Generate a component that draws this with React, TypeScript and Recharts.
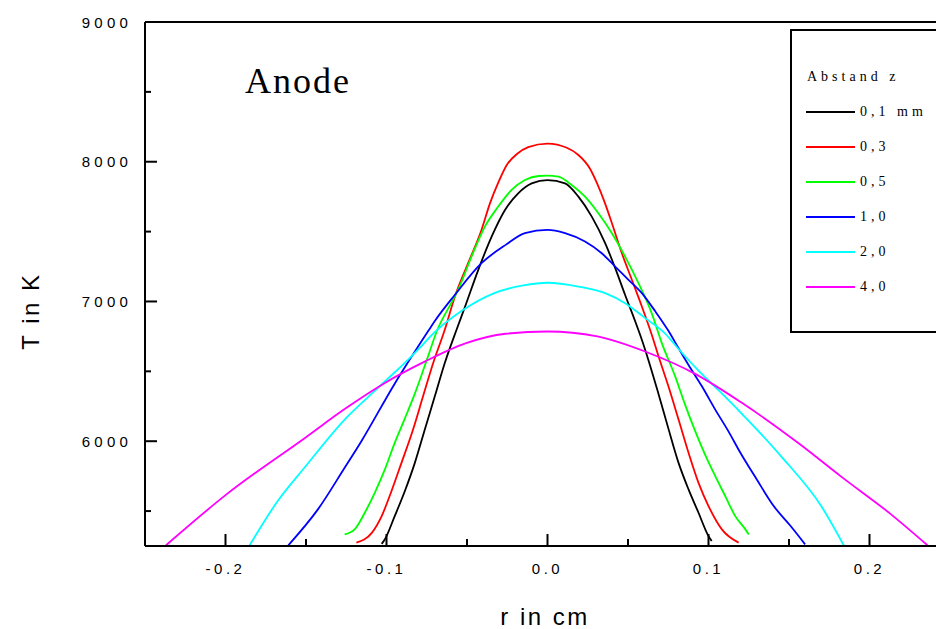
import { LineChart, Line, XAxis, YAxis, ReferenceLine, Label } from "recharts"

// r in cm, T in K for each distance z
const curve01 = [
  [-0.103, 5265], [-0.101, 5298], [-0.0949, 5464], [-0.0887, 5640], [-0.0824, 5845], [-0.0762, 6084],
  [-0.07, 6321], [-0.0638, 6560], [-0.0565, 6798], [-0.0513, 6960], [-0.043, 7226], [-0.0347, 7464],
  [-0.0264, 7655], [-0.0182, 7774], [-0.0098, 7845], [0, 7869], [0.0109, 7845], [0.0192, 7750],
  [0.0275, 7607], [0.0358, 7417], [0.042, 7240], [0.0481, 7050], [0.0544, 6860], [0.0586, 6726],
  [0.0627, 6580], [0.0689, 6340], [0.0751, 6090], [0.0814, 5845], [0.0876, 5655], [0.0938, 5488],
  [0.1, 5321], [0.102, 5286],
]
const curve03 = [
  [-0.1187, 5274], [-0.109, 5346], [-0.103, 5464], [-0.097, 5640], [-0.0907, 5845], [-0.0835, 6084],
  [-0.0773, 6321], [-0.071, 6560], [-0.0638, 6798], [-0.0575, 7036], [-0.0493, 7274], [-0.041, 7512],
  [-0.0358, 7700], [-0.0306, 7850], [-0.0254, 7975], [-0.019, 8055], [-0.012, 8105], [0, 8130],
  [0.012, 8100], [0.019, 8050], [0.0264, 7950], [0.0306, 7850], [0.0358, 7700], [0.04, 7560],
  [0.0462, 7345], [0.0524, 7155], [0.0586, 6964], [0.0648, 6760], [0.0689, 6610], [0.0751, 6393],
  [0.0814, 6155], [0.0876, 5917], [0.0938, 5702], [0.1, 5536], [0.1083, 5369], [0.1187, 5274],
]
const curve05 = [
  [-0.126, 5333], [-0.1198, 5369], [-0.1135, 5488], [-0.1073, 5631], [-0.101, 5798], [-0.0949, 5988],
  [-0.0887, 6160], [-0.0824, 6340], [-0.0742, 6607], [-0.069, 6780], [-0.0588, 7010], [-0.0555, 7084],
  [-0.0472, 7321], [-0.0389, 7536], [-0.0306, 7679], [-0.0223, 7798], [-0.014, 7869], [-0.0056, 7898],
  [0, 7900], [0.0067, 7893], [0.015, 7834], [0.0233, 7750], [0.0316, 7631], [0.04, 7488],
  [0.0482, 7321], [0.0565, 7131], [0.0647, 6917], [0.071, 6702], [0.0793, 6464], [0.0855, 6260],
  [0.0918, 6070], [0.098, 5900], [0.1042, 5750], [0.1104, 5607], [0.1166, 5464], [0.1229, 5369],
  [0.125, 5333],
]
const curve10 = [
  [-0.161, 5255], [-0.1426, 5512], [-0.126, 5810], [-0.1156, 6000], [-0.095, 6410], [-0.074, 6790],
  [-0.07, 6860], [-0.0575, 7048], [-0.041, 7274], [-0.026, 7405], [-0.014, 7489], [0, 7512],
  [0.0109, 7489], [0.0233, 7429], [0.0337, 7345], [0.042, 7250], [0.0503, 7155], [0.0586, 7060],
  [0.0669, 6930], [0.0751, 6790], [0.0814, 6665], [0.0876, 6545], [0.0959, 6393], [0.1042, 6226],
  [0.1124, 6070], [0.1198, 5917], [0.13, 5726], [0.1405, 5536], [0.151, 5393], [0.16, 5262],
]
const curve20 = [
  [-0.185, 5255], [-0.168, 5565], [-0.151, 5810], [-0.126, 6155], [-0.105, 6385], [-0.0845, 6607],
  [-0.08, 6660], [-0.071, 6770], [-0.053, 6935], [-0.033, 7060], [-0.015, 7115], [0, 7134],
  [0.0192, 7107], [0.0358, 7060], [0.0482, 6988], [0.0607, 6881], [0.0731, 6770], [0.0814, 6660],
  [0.0938, 6505], [0.1062, 6365], [0.12, 6205], [0.145, 5893], [0.17, 5536], [0.184, 5255],
]
const curve40 = [
  [-0.237, 5255], [-0.2, 5614], [-0.15, 6029], [-0.126, 6230], [-0.101, 6417], [-0.076, 6571],
  [-0.051, 6700], [-0.026, 6769], [0, 6785], [0.031, 6750], [0.061, 6640], [0.092, 6480],
  [0.12, 6280], [0.157, 5976], [0.182, 5750], [0.213, 5480], [0.236, 5255],
]

const zLabels = ["0,1 mm", "0,3", "0,5", "1,0", "2,0", "4,0"]
const zColors = ["#000000", "#ff0000", "#00ff00", "#0000ff", "#00ffff", "#ff00ff"]
const curves = [curve01, curve03, curve05, curve10, curve20, curve40]

const xTicks = [-0.2, -0.15, -0.1, -0.05, 0, 0.05, 0.1, 0.15, 0.2]
const xMajor = [-0.2, -0.1, 0, 0.1, 0.2]
const yTicks = [5500, 6000, 6500, 7000, 7500, 8000, 8500, 9000]
const yMajor = [6000, 7000, 8000, 9000]

const sans = "'Liberation Sans', Arial, sans-serif"
const serif = "'Liberation Serif', 'Times New Roman', serif"

const series = curves.map((c) => c.map(([r, T]) => ({ r, T })))

function XTick({ x, y, payload }: any) {
  const v = payload.value
  const major = xMajor.some((m) => Math.abs(m - v) < 1e-9)
  return (
    <g>
      <line x1={x} x2={x} y1={y} y2={y - (major ? 12 : 7)} stroke="#000" strokeWidth={2} />
      {major && (
        <text x={x} y={y + 27.5} textAnchor="middle" fontFamily={sans} fontSize={15} letterSpacing={3.5} fill="#000">
          {v.toFixed(1)}
        </text>
      )}
    </g>
  )
}

function YTick({ x, y, payload }: any) {
  const v = payload.value
  const major = yMajor.includes(v)
  return (
    <g>
      <line x1={x} x2={x + (major ? 12 : 6)} y1={y} y2={y} stroke="#000" strokeWidth={2} />
      {major && (
        <text x={x - 13} y={y + 5.5} textAnchor="end" fontFamily={sans} fontSize={15} letterSpacing={4.2} fill="#000">
          {v}
        </text>
      )}
    </g>
  )
}

export default function App() {
  return (
    <div style={{ width: 936, height: 629, overflow: "hidden", position: "relative", background: "#fff" }}>
      <style>{"html,body{margin:0;padding:0;overflow:hidden}"}</style>
      <LineChart width={962} height={629} margin={{ top: 22, right: 12, bottom: 0, left: 0 }}>
        <XAxis
          type="number"
          dataKey="r"
          domain={[-0.25, 0.25]}
          allowDataOverflow
          ticks={xTicks}
          interval={0}
          tick={<XTick />}
          tickLine={false}
          tickSize={0}
          tickMargin={0}
          height={83}
          axisLine={{ stroke: "#000", strokeWidth: 2 }}
        >
          <Label
            content={() => (
              <text x={545} y={625} textAnchor="middle" fontFamily={sans} fontSize={24} letterSpacing={2.5} fill="#000">
                r in cm
              </text>
            )}
          />
        </XAxis>
        <YAxis
          type="number"
          domain={[5250, 9000]}
          allowDataOverflow
          ticks={yTicks}
          interval={0}
          tick={<YTick />}
          tickLine={false}
          tickSize={0}
          tickMargin={0}
          width={145}
          axisLine={{ stroke: "#000", strokeWidth: 2 }}
        >
          <Label
            content={() => (
              <text
                x={39}
                y={311}
                transform="rotate(-90 39 311)"
                textAnchor="middle"
                fontFamily={sans}
                fontSize={24}
                letterSpacing={2.5}
                fill="#000"
              >
                T in K
              </text>
            )}
          />
        </YAxis>
        <ReferenceLine y={9000} stroke="#000" strokeWidth={2} />
        <ReferenceLine x={0.25} stroke="#000" strokeWidth={2} />
        {series.map((d, i) => (
          <Line
            key={zLabels[i]}
            data={d}
            dataKey="T"
            name={zLabels[i]}
            type="monotone"
            stroke={zColors[i]}
            strokeWidth={1.8}
            dot={false}
            isAnimationActive={false}
          />
        ))}
      </LineChart>

      <div
        style={{
          position: "absolute",
          left: 245,
          top: 58,
          fontFamily: serif,
          fontSize: 36,
          letterSpacing: 2,
          lineHeight: "46px",
        }}
      >
        Anode
      </div>

      <div
        style={{
          position: "absolute",
          left: 790,
          top: 29,
          width: 200,
          height: 300,
          border: "2px solid #000",
          fontFamily: serif,
          fontSize: 14,
          letterSpacing: 4,
        }}
      >
        <div style={{ position: "absolute", left: 15, top: 37, lineHeight: "18px" }}>Abstand z</div>
        {zLabels.map((lab, i) => (
          <div
            key={lab}
            style={{ position: "absolute", left: 14, top: 72 + i * 35, height: 18, display: "flex", alignItems: "center" }}
          >
            <div style={{ width: 49, height: 2, background: zColors[i] }} />
            <span style={{ marginLeft: 5, lineHeight: "18px", whiteSpace: "nowrap" }}>{lab}</span>
          </div>
        ))}
      </div>
    </div>
  )
}
